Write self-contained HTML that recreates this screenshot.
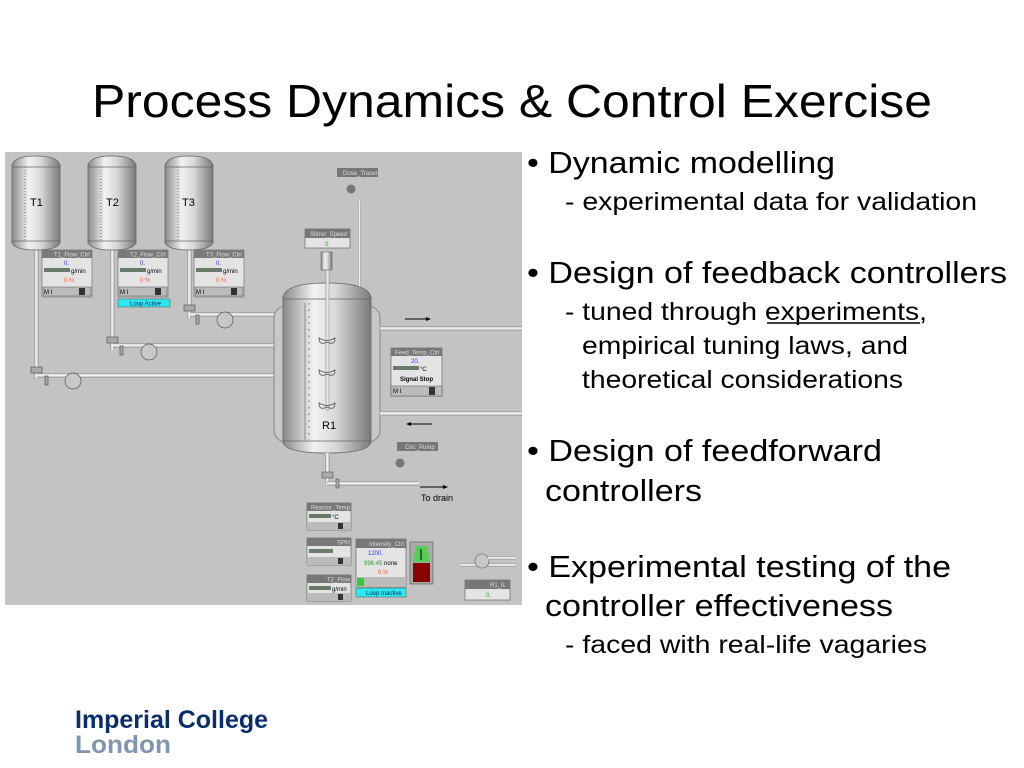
<!DOCTYPE html>
<html><head><meta charset="utf-8"><style>
html,body{margin:0;padding:0;background:#fff;}
svg{display:block;font-family:"Liberation Sans",Arial,sans-serif;}
</style></head><body>
<svg width="1024" height="768" viewBox="0 0 1024 768" xmlns="http://www.w3.org/2000/svg">
<defs>
<linearGradient id="cyl" x1="0" x2="1" y1="0" y2="0">
<stop offset="0" stop-color="#8a8a8a"/><stop offset="0.35" stop-color="#f2f2f2"/><stop offset="0.6" stop-color="#d8d8d8"/><stop offset="1" stop-color="#7a7a7a"/>
</linearGradient>
<linearGradient id="pipeH" x1="0" x2="0" y1="0" y2="1">
<stop offset="0" stop-color="#888"/><stop offset="0.4" stop-color="#fff"/><stop offset="1" stop-color="#999"/>
</linearGradient>
<linearGradient id="pipeV" x1="0" x2="1" y1="0" y2="0">
<stop offset="0" stop-color="#888"/><stop offset="0.4" stop-color="#fff"/><stop offset="1" stop-color="#999"/>
</linearGradient>
</defs>
<rect width="1024" height="768" fill="#fff"/>
<text x="92" y="117" font-size="46" textLength="840" lengthAdjust="spacingAndGlyphs" fill="#000">Process Dynamics &amp; Control Exercise</text>

<!-- panel -->
<rect x="5" y="152" width="517" height="453" fill="#c3c3c3"/>

<rect x="34" y="245" width="5" height="133" fill="url(#pipeV)"/>
<rect x="110" y="245" width="5" height="105" fill="url(#pipeV)"/>
<rect x="187" y="245" width="5" height="73" fill="url(#pipeV)"/>
<rect x="37" y="373" width="246" height="5" fill="url(#pipeH)"/>
<rect x="113" y="343" width="170" height="5" fill="url(#pipeH)"/>
<rect x="190" y="312" width="93" height="5" fill="url(#pipeH)"/>
<g fill="#aaa" stroke="#555" stroke-width="0.7">
<rect x="31" y="367" width="11" height="6"/><rect x="107" y="337" width="11" height="6"/><rect x="184" y="305" width="11" height="6"/>
<circle cx="73" cy="381" r="8" fill="#c8c8c8"/><circle cx="149" cy="352" r="8" fill="#c8c8c8"/><circle cx="225" cy="320" r="8" fill="#c8c8c8"/>
<rect x="45" y="376" width="3" height="9"/><rect x="120" y="346" width="3" height="9"/><rect x="196" y="315" width="3" height="9"/>
</g>

<g>
<rect x="12" y="165" width="48" height="78" fill="url(#cyl)" stroke="#666" stroke-width="0.8"/>
<path d="M12 167 Q12 156 36 156 Q60 156 60 167 Z" fill="url(#cyl)" stroke="#666" stroke-width="0.8"/>
<path d="M12 241 Q12 250 36 250 Q60 250 60 241 Z" fill="url(#cyl)" stroke="#666" stroke-width="0.8"/>
<line x1="25" y1="167" x2="25" y2="240" stroke="#777" stroke-dasharray="1 2"/>
<text x="30" y="206" font-size="11">T1</text>
<rect x="88" y="165" width="48" height="78" fill="url(#cyl)" stroke="#666" stroke-width="0.8"/>
<path d="M88 167 Q88 156 112 156 Q136 156 136 167 Z" fill="url(#cyl)" stroke="#666" stroke-width="0.8"/>
<path d="M88 241 Q88 250 112 250 Q136 250 136 241 Z" fill="url(#cyl)" stroke="#666" stroke-width="0.8"/>
<line x1="101" y1="167" x2="101" y2="240" stroke="#777" stroke-dasharray="1 2"/>
<text x="106" y="206" font-size="11">T2</text>
<rect x="165" y="165" width="48" height="78" fill="url(#cyl)" stroke="#666" stroke-width="0.8"/>
<path d="M165 167 Q165 156 189 156 Q213 156 213 167 Z" fill="url(#cyl)" stroke="#666" stroke-width="0.8"/>
<path d="M165 241 Q165 250 189 250 Q213 250 213 241 Z" fill="url(#cyl)" stroke="#666" stroke-width="0.8"/>
<line x1="178" y1="167" x2="178" y2="240" stroke="#777" stroke-dasharray="1 2"/>
<text x="182" y="206" font-size="11">T3</text>
</g>

<g font-size="6">
<g transform="translate(42,250)">
<rect width="50" height="47" fill="#e4e4e4" stroke="#666" stroke-width="0.6"/>
<rect width="50" height="8" fill="#7a7a7a"/><text x="12" y="6.5" fill="#ddd">T1_Flow_Ctrl</text>
<text x="22" y="15" fill="#33f">0.</text>
<rect x="2" y="18" width="26" height="4" fill="#6a7a6a"/><text x="29" y="23">g/min</text>
<text x="22" y="32" fill="#e64">0.%</text>
<rect x="1" y="37" width="48" height="9" fill="#bbb" stroke="#555" stroke-width="0.5"/>
<text x="2" y="44">M I</text><rect x="37" y="38" width="6" height="7" fill="#333"/>
</g>
<g transform="translate(118,250)">
<rect width="50" height="47" fill="#e4e4e4" stroke="#666" stroke-width="0.6"/>
<rect width="50" height="8" fill="#7a7a7a"/><text x="12" y="6.5" fill="#ddd">T2_Flow_Ctrl</text>
<text x="22" y="15" fill="#33f">0.</text>
<rect x="2" y="18" width="26" height="4" fill="#6a7a6a"/><text x="29" y="23">g/min</text>
<text x="22" y="32" fill="#e64">0.%</text>
<rect x="1" y="37" width="48" height="9" fill="#bbb" stroke="#555" stroke-width="0.5"/>
<text x="2" y="44">M I</text><rect x="37" y="38" width="6" height="7" fill="#333"/>
</g>
<g transform="translate(194,250)">
<rect width="50" height="47" fill="#e4e4e4" stroke="#666" stroke-width="0.6"/>
<rect width="50" height="8" fill="#7a7a7a"/><text x="12" y="6.5" fill="#ddd">T3_Flow_Ctrl</text>
<text x="22" y="15" fill="#33f">0.</text>
<rect x="2" y="18" width="26" height="4" fill="#6a7a6a"/><text x="29" y="23">g/min</text>
<text x="22" y="32" fill="#e64">0.%</text>
<rect x="1" y="37" width="48" height="9" fill="#bbb" stroke="#555" stroke-width="0.5"/>
<text x="2" y="44">M I</text><rect x="37" y="38" width="6" height="7" fill="#333"/>
</g>
<rect x="118" y="299" width="52" height="8" fill="#2ee8f0" stroke="#555" stroke-width="0.5"/>
<text x="130" y="305.5" fill="#036">Loop Active</text>
</g>

<rect x="337" y="168" width="41" height="9" fill="#777"/>
<text x="343" y="175" font-size="6" fill="#ddd">Dose_Tracer</text>
<circle cx="351" cy="189" r="4.5" fill="#777"/>
<rect x="358" y="201" width="3" height="90" fill="url(#pipeV)"/>

<rect x="305" y="229" width="45" height="19" fill="#e4e4e4" stroke="#555" stroke-width="0.6"/>
<rect x="305" y="229" width="45" height="9" fill="#777"/>
<text x="310" y="236" font-size="6" fill="#ddd">Stirrer_Speed</text>
<text x="325" y="246" font-size="6" fill="#393">0.</text>
<rect x="321" y="252" width="11" height="18" fill="url(#cyl)" stroke="#555" stroke-width="0.5"/>

<rect x="274" y="306" width="106" height="136" rx="12" fill="#c8c8c8" stroke="#777" stroke-width="0.8"/>
<rect x="283" y="297" width="88" height="146" fill="url(#cyl)" stroke="#666" stroke-width="0.8"/>
<path d="M283 299 Q283 283 327 283 Q371 283 371 299 Z" fill="url(#cyl)" stroke="#666" stroke-width="0.8"/>
<path d="M283 441 Q283 453 327 453 Q371 453 371 441 Z" fill="url(#cyl)" stroke="#666" stroke-width="0.8"/>
<line x1="305" y1="303" x2="305" y2="440" stroke="#777" stroke-width="0.8"/>
<line x1="309" y1="303" x2="309" y2="440" stroke="#666" stroke-dasharray="1.5 5"/>
<rect x="326" y="270" width="3" height="140" fill="#e8e8e8" stroke="#666" stroke-width="0.4"/>
<g fill="none" stroke="#555" stroke-width="0.8">
<path d="M319 338 Q327 343 335 338 Q335 346 327 342 Q319 346 319 338Z"/>
<path d="M319 370 Q327 375 335 370 Q335 378 327 374 Q319 378 319 370Z"/>
<path d="M319 403 Q327 408 335 403 Q335 411 327 407 Q319 411 319 403Z"/>
</g>
<text x="322" y="429" font-size="11">R1</text>

<rect x="380" y="326" width="142" height="5" fill="url(#pipeH)"/>
<rect x="380" y="411" width="142" height="5" fill="url(#pipeH)"/>
<line x1="405" y1="319" x2="427" y2="319" stroke="#000"/><path d="M431 319 l-5 -2 v4z"/>
<line x1="410" y1="424" x2="432" y2="424" stroke="#000"/><path d="M406 424 l5 -2 v4z"/>

<g transform="translate(391,348)" font-size="6">
<rect width="51" height="48" fill="#e4e4e4" stroke="#555" stroke-width="0.6"/>
<rect width="51" height="8" fill="#777"/><text x="4" y="6.5" fill="#ddd">Feed_Temp_Ctrl</text>
<text x="20" y="15" fill="#33f">20.</text>
<rect x="2" y="18" width="26" height="4" fill="#6a7a6a"/><text x="29" y="23">°C</text>
<text x="9" y="33" font-weight="bold">Signal Stop</text>
<rect x="0" y="38" width="51" height="10" fill="#bbb" stroke="#555" stroke-width="0.5"/>
<text x="2" y="45">M I</text><rect x="38" y="39" width="6" height="8" fill="#333"/>
</g>

<rect x="397" y="442" width="41" height="9" fill="#777"/>
<text x="405" y="449" font-size="6" fill="#ddd">Circ_Pump</text>
<circle cx="400" cy="463" r="4.5" fill="#777"/>

<rect x="325" y="453" width="5" height="32" fill="url(#pipeV)"/>
<rect x="327" y="481" width="92" height="5" fill="url(#pipeH)"/>
<rect x="322" y="472" width="11" height="6" fill="#aaa" stroke="#555" stroke-width="0.6"/>
<rect x="336" y="479" width="3" height="9" fill="#aaa" stroke="#555" stroke-width="0.6"/>
<line x1="420" y1="487" x2="444" y2="487" stroke="#000"/><path d="M448 487 l-5 -2 v4z"/>
<text x="421" y="501" font-size="9">To drain</text>

<g font-size="6">
<g transform="translate(307,503)">
<rect width="44" height="27" fill="#e4e4e4" stroke="#555" stroke-width="0.6"/>
<rect width="44" height="8" fill="#777"/><text x="4" y="6.5" fill="#ddd">Reactor_Temp</text>
<rect x="2" y="11" width="22" height="4" fill="#6a7a6a"/><text x="25" y="16">°C</text>
<rect x="0" y="19" width="44" height="8" fill="#bbb"/><rect x="31" y="20" width="5" height="6" fill="#333"/>
</g>
<g transform="translate(307,538)">
<rect width="44" height="27" fill="#e4e4e4" stroke="#555" stroke-width="0.6"/>
<rect width="44" height="8" fill="#777"/><text x="30" y="6.5" fill="#ddd">SPM</text>
<rect x="2" y="11" width="24" height="4" fill="#6a7a6a"/>
<rect x="0" y="19" width="44" height="8" fill="#bbb"/><rect x="31" y="20" width="5" height="6" fill="#333"/>
</g>
<g transform="translate(307,575)">
<rect width="44" height="26" fill="#e4e4e4" stroke="#555" stroke-width="0.6"/>
<rect width="44" height="8" fill="#777"/><text x="20" y="6.5" fill="#ddd">T2_Flow</text>
<rect x="2" y="11" width="22" height="4" fill="#6a7a6a"/><text x="25" y="16">g/min</text>
<rect x="0" y="18" width="44" height="8" fill="#bbb"/><rect x="31" y="19" width="5" height="6" fill="#333"/>
</g>
<g transform="translate(356,539)">
<rect width="50" height="48" fill="#e4e4e4" stroke="#555" stroke-width="0.6"/>
<rect width="50" height="9" fill="#777"/><text x="13" y="7" fill="#ddd">Intensity_Ctrl</text>
<text x="12" y="16" fill="#33f">1200.</text>
<text x="8" y="26"><tspan fill="#393">996.45</tspan> none</text>
<text x="22" y="35" fill="#e64">0.%</text>
<rect x="0" y="38" width="50" height="10" fill="#bbb"/><rect x="1" y="39" width="7" height="8" fill="#3c3"/>
</g>
<rect x="356" y="588" width="50" height="9" fill="#2ee8f0" stroke="#555" stroke-width="0.5"/>
<text x="366" y="595" fill="#036">Loop Inactive</text>
</g>
<rect x="410" y="542" width="23" height="42" fill="#aaa" stroke="#555" stroke-width="0.6"/>
<path d="M413 562 L416 546 L427 546 L430 562 Z" fill="#5c5"/>
<rect x="413" y="563" width="17" height="19" fill="#800"/>
<line x1="421" y1="549" x2="421" y2="560" stroke="#000"/>
<rect x="460" y="563" width="55" height="4" fill="url(#pipeH)"/>
<circle cx="482" cy="561" r="7" fill="#c8c8c8" stroke="#555" stroke-width="0.6"/>
<rect x="488" y="556" width="27" height="4" fill="url(#pipeH)"/>
<rect x="465" y="580" width="45" height="20" fill="#e4e4e4" stroke="#555" stroke-width="0.6"/>
<rect x="465" y="580" width="45" height="9" fill="#777"/>
<text x="490" y="587" font-size="6" fill="#ddd">R1_lL</text>
<text x="486" y="597" font-size="6" fill="#393">0.</text>

<!-- bullets -->
<g fill="#000">
<text x="527" y="173" font-size="31" textLength="308" lengthAdjust="spacingAndGlyphs">• Dynamic modelling</text>
<text x="565" y="210" font-size="25" textLength="412" lengthAdjust="spacingAndGlyphs">- experimental data for validation</text>
<text x="527" y="283" font-size="31" textLength="480" lengthAdjust="spacingAndGlyphs">• Design of feedback controllers</text>
<text x="565" y="320" font-size="25" textLength="362" lengthAdjust="spacingAndGlyphs">- tuned through experiments,</text>
<line x1="767" y1="323" x2="920" y2="323" stroke="#000" stroke-width="1.5"/>
<text x="582" y="354" font-size="25" textLength="326" lengthAdjust="spacingAndGlyphs">empirical tuning laws, and</text>
<text x="582" y="388" font-size="25" textLength="321" lengthAdjust="spacingAndGlyphs">theoretical considerations</text>
<text x="527" y="461" font-size="31" textLength="355" lengthAdjust="spacingAndGlyphs">• Design of feedforward</text>
<text x="545" y="501" font-size="31" textLength="157" lengthAdjust="spacingAndGlyphs">controllers</text>
<text x="527" y="577" font-size="31" textLength="424" lengthAdjust="spacingAndGlyphs">• Experimental testing of the</text>
<text x="545" y="616" font-size="31" textLength="348" lengthAdjust="spacingAndGlyphs">controller effectiveness</text>
<text x="565" y="653" font-size="25" textLength="362" lengthAdjust="spacingAndGlyphs">- faced with real-life vagaries</text>
</g>

<text x="75" y="728" font-size="25" font-weight="bold" fill="#0a2d6e" textLength="193" lengthAdjust="spacingAndGlyphs">Imperial College</text>
<text x="75" y="753" font-size="25" font-weight="bold" fill="#8294b3" textLength="96" lengthAdjust="spacingAndGlyphs">London</text>
</svg>
</body></html>
